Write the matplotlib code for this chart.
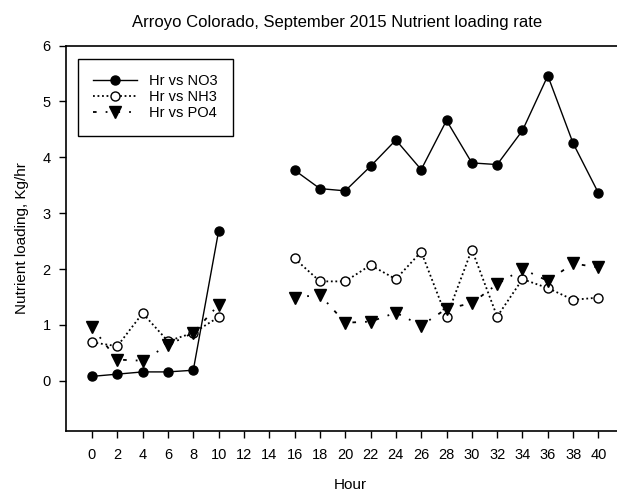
import numpy as np
import matplotlib
matplotlib.use("Agg")
import matplotlib.pyplot as plt

plt.rcParams["font.family"] = ["Liberation Sans", "DejaVu Sans"]

# ── Data (12 and 14 have no samples -> gap in the lines) ─────────────
hours = [0, 2, 4, 6, 8, 10, 12, 14, 16, 18, 20, 22, 24, 26, 28, 30, 32, 34, 36, 38, 40]
no3 = [0.08, 0.12, 0.16, 0.16, 0.19, 2.68, np.nan, np.nan,
       3.77, 3.44, 3.40, 3.84, 4.31, 3.78, 4.66, 3.90, 3.87, 4.48, 5.46, 4.25, 3.36]
nh3 = [0.69, 0.62, 1.21, 0.71, 0.86, 1.14, np.nan, np.nan,
       2.19, 1.78, 1.78, 2.07, 1.82, 2.31, 1.14, 2.35, 1.15, 1.82, 1.66, 1.45, 1.49]
po4 = [0.96, 0.38, 0.36, 0.64, 0.86, 1.36, np.nan, np.nan,
       1.49, 1.54, 1.04, 1.06, 1.22, 0.99, 1.29, 1.39, 1.73, 2.00, 1.79, 2.10, 2.03]

fig = plt.figure(figsize=(6.17, 4.95), dpi=100)
ax = fig.add_axes([0.107, 0.129, 0.92, 0.779])

ax.plot(hours, no3, "-", color="black", lw=1, marker="o", ms=6.5,
        mfc="black", mec="black", label="Hr vs NO3")
ax.plot(hours, nh3, color="black", lw=1.3, ls=(0, (1, 1.5)), marker="o", ms=6.5,
        mfc="white", mec="black", mew=1, label="Hr vs NH3")
ax.plot(hours, po4, color="black", lw=1.3, ls=(0, (2, 5, 1, 5)), marker="v", ms=8,
        mfc="black", mec="black", label="Hr vs PO4")

ax.set_xlim(-2.05, 42.78)
ax.set_ylim(-0.9, 6)
ax.set_xticks(range(0, 41, 2))
ax.set_yticks(range(0, 7))
ax.tick_params(direction="out", length=5, width=1, labelsize=10.5, top=False, right=False)
ax.tick_params(axis="x", pad=7)
ax.tick_params(axis="y", pad=6)
for s in ax.spines.values():
    s.set_linewidth(1.2)

ax.set_xlabel("Hour", fontsize=11, labelpad=12)
ax.set_ylabel("Nutrient loading, Kg/hr", fontsize=11, labelpad=10)
fig.text(0.547, 0.955, "Arroyo Colorado, September 2015 Nutrient loading rate",
         ha="center", va="center", fontsize=12)

leg = ax.legend(loc="upper left", bbox_to_anchor=(0.021, 0.9655), fancybox=False,
                edgecolor="black", framealpha=1, fontsize=10.5, handlelength=3.0,
                handletextpad=0.8, labelspacing=0.14, borderpad=1.05, borderaxespad=0)
leg.get_frame().set_linewidth(1)

fig.savefig("out.png", dpi=100)
